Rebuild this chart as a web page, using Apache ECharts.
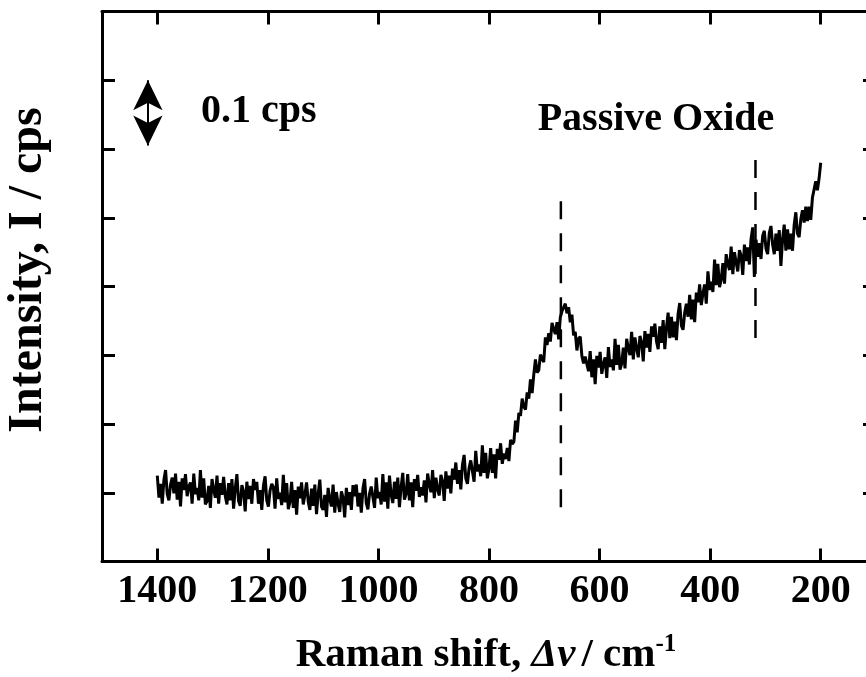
<!DOCTYPE html>
<html>
<head>
<meta charset="utf-8">
<script src="https://cdn.jsdelivr.net/npm/echarts@6/dist/echarts.min.js"></script>
<style>
html,body{margin:0;padding:0;background:#fff;}
#chart{width:866px;height:677px;}
</style>
</head>
<body>
<div id="chart"></div>
<script>
// Raman shift (cm-1)
const shiftsCm = [
1400,1397,1394,1391,1388,1385,1382,1379,1376,1373,
1370,1367,1364,1361,1358,1355,1352,1349,1346,1343,
1340,1337,1334,1331,1328,1325,1322,1319,1316,1313,
1310,1307,1304,1301,1298,1295,1292,1289,1286,1283,
1280,1277,1274,1271,1268,1265,1262,1259,1256,1253,
1250,1247,1244,1241,1238,1235,1232,1229,1226,1223,
1220,1217,1214,1211,1208,1205,1202,1199,1196,1193,
1190,1187,1184,1181,1178,1175,1172,1169,1166,1163,
1160,1157,1154,1151,1148,1145,1142,1139,1136,1133,
1130,1127,1124,1121,1118,1115,1112,1109,1106,1103,
1100,1097,1094,1091,1088,1085,1082,1079,1076,1073,
1070,1067,1064,1061,1058,1055,1052,1049,1046,1043,
1040,1037,1034,1031,1028,1025,1022,1019,1016,1013,
1010,1007,1004,1001,998,995,992,989,986,983,
980,977,974,971,968,965,962,959,956,953,
950,947,944,941,938,935,932,929,926,923,
920,917,914,911,908,905,902,899,896,893,
890,887,884,881,878,875,872,869,866,863,
860,857,854,851,848,845,842,839,836,833,
830,827,824,821,818,815,812,809,806,803,
800,797,794,791,788,785,782,779,776,773,
770,767,764,761,758,755,752,749,746,743,
740,737,734,731,728,725,722,719,716,713,
710,707,704,701,698,695,692,689,686,683,
680,677,674,671,668,665,662,659,656,653,
650,647,644,641,638,635,632,629,626,623,
620,617,614,611,608,605,602,599,596,593,
590,587,584,581,578,575,572,569,566,563,
560,557,554,551,548,545,542,539,536,533,
530,527,524,521,518,515,512,509,506,503,
500,497,494,491,488,485,482,479,476,473,
470,467,464,461,458,455,452,449,446,443,
440,437,434,431,428,425,422,419,416,413,
410,407,404,401,398,395,392,389,386,383,
380,377,374,371,368,365,362,359,356,353,
350,347,344,341,338,335,332,329,326,323,
320,317,314,311,308,305,302,299,296,293,
290,287,284,281,278,275,272,269,266,263,
260,257,254,251,248,245,242,239,236,233,
230,227,224,221,218,215,212,209,206,203,
200
];
// Intensity (cps)
const intensityCps = [
0.125,0.093,0.113,0.084,0.119,0.133,0.098,0.089,0.112,0.122,
0.099,0.128,0.090,0.116,0.080,0.121,0.104,0.127,0.095,0.109,
0.115,0.084,0.128,0.098,0.107,0.089,0.133,0.093,0.121,0.083,
0.088,0.110,0.078,0.120,0.104,0.093,0.125,0.084,0.114,0.097,
0.123,0.095,0.083,0.114,0.089,0.120,0.077,0.106,0.127,0.088,
0.081,0.111,0.102,0.073,0.116,0.091,0.110,0.084,0.120,0.104,
0.116,0.084,0.104,0.075,0.110,0.124,0.089,0.080,0.103,0.113,
0.108,0.077,0.121,0.091,0.100,0.082,0.126,0.086,0.114,0.076,
0.087,0.116,0.078,0.104,0.068,0.109,0.092,0.115,0.083,0.097,
0.115,0.087,0.075,0.106,0.081,0.112,0.069,0.098,0.119,0.080,
0.075,0.097,0.065,0.107,0.091,0.080,0.112,0.071,0.101,0.084,
0.072,0.102,0.093,0.064,0.107,0.082,0.101,0.075,0.111,0.095,
0.112,0.080,0.100,0.071,0.106,0.120,0.085,0.076,0.099,0.109,
0.109,0.078,0.122,0.092,0.101,0.083,0.127,0.087,0.115,0.077,
0.125,0.097,0.085,0.116,0.091,0.122,0.079,0.108,0.129,0.090,
0.098,0.127,0.089,0.115,0.079,0.120,0.103,0.126,0.094,0.108,
0.096,0.118,0.086,0.128,0.112,0.101,0.133,0.092,0.122,0.105,
0.096,0.126,0.117,0.088,0.131,0.106,0.125,0.099,0.135,0.119,
0.144,0.113,0.133,0.105,0.141,0.155,0.121,0.113,0.136,0.147,
0.146,0.116,0.161,0.131,0.141,0.124,0.169,0.129,0.158,0.121,
0.135,0.165,0.129,0.156,0.121,0.164,0.148,0.172,0.142,0.157,
0.149,0.165,0.146,0.177,0.171,0.174,0.205,0.188,0.216,0.212,
0.237,0.225,0.221,0.246,0.237,0.265,0.245,0.272,0.294,0.275,
0.278,0.301,0.302,0.290,0.326,0.315,0.332,0.320,0.347,0.338,
0.331,0.348,0.323,0.355,0.364,0.365,0.375,0.361,0.370,0.348,
0.359,0.329,0.334,0.307,0.324,0.327,0.299,0.288,0.298,0.300,
0.277,0.306,0.268,0.294,0.258,0.299,0.282,0.305,0.273,0.287,
0.297,0.267,0.312,0.283,0.294,0.278,0.324,0.286,0.315,0.279,
0.288,0.311,0.281,0.324,0.310,0.300,0.334,0.294,0.326,0.310,
0.297,0.328,0.319,0.291,0.335,0.311,0.331,0.305,0.342,0.327,
0.346,0.320,0.309,0.342,0.318,0.351,0.309,0.340,0.362,0.325,
0.356,0.326,0.349,0.322,0.360,0.376,0.343,0.337,0.362,0.375,
0.356,0.388,0.352,0.381,0.348,0.391,0.377,0.403,0.373,0.390,
0.403,0.375,0.422,0.395,0.407,0.392,0.439,0.402,0.433,0.399,
0.410,0.434,0.404,0.447,0.433,0.424,0.458,0.418,0.450,0.435,
0.422,0.453,0.445,0.417,0.461,0.437,0.457,0.432,0.469,0.486,
0.414,0.468,0.443,0.463,0.440,0.474,0.481,0.455,0.447,0.478,
0.488,0.461,0.447,0.477,0.452,0.482,0.430,0.469,0.490,0.452,
0.483,0.454,0.477,0.452,0.490,0.508,0.477,0.472,0.498,0.511,
0.493,0.516,0.495,0.516,0.497,0.529,0.528,0.553,0.540,0.557,
0.580
];
// x-axis tick labels
const xTicks = [1400,1200,1000,800,600,400,200];
// dashed marker lines (Passive Oxide bands)
const bandShifts = [670, 318];
const bandTop = [0.524, 0.584];
const bandBottom = [0.0705, 0.325];
// scale arrow (0.1 cps)
const arrowShift = 1417;
const arrowFrom = 0.605;
const arrowTo = 0.700;

const FONT = '"Liberation Serif","Times New Roman",serif';
const chart = echarts.init(document.getElementById('chart'), null, {renderer:'canvas'});

const spectrum = shiftsCm.map((s,i)=>[s, intensityCps[i]]);
const bandSeries = bandShifts.map((s,i)=>({
  type:'line', xAxisIndex:0, yAxisIndex:0, showSymbol:false, silent:true,
  data:[[s,bandTop[i]],[s,bandBottom[i]]],
  lineStyle:{color:'#000', width:2.5, type:[18,14]}, z:3
}));

const axisCommon = {
  axisLine:{show:true, onZero:false, lineStyle:{color:'#000', width:3}},
  splitLine:{show:false}
};
const tickStyle = {show:true, inside:true, length:13, lineStyle:{color:'#000', width:3}};

chart.setOption({
  animation:false,
  backgroundColor:'#fff',
  grid:{left:102, width:774, top:11.5, height:550, containLabel:false, outerBoundsMode:'none'},
  xAxis:[
    Object.assign({}, axisCommon, {
      type:'value', position:'bottom', min:100, max:1500, inverse:true,
      axisTick:Object.assign({customValues:xTicks}, tickStyle),
      axisLabel:{show:true, margin:10, color:'#000', fontFamily:FONT, fontWeight:'bold', fontSize:40,
        customValues:xTicks, formatter:function(v){return String(v);}}
    }),
    Object.assign({}, axisCommon, {
      type:'value', position:'top', min:100, max:1500, inverse:true,
      axisTick:Object.assign({customValues:xTicks}, tickStyle),
      axisLabel:{show:false}
    })
  ],
  yAxis:[
    Object.assign({}, axisCommon, {
      type:'value', position:'left', min:0, max:0.8, interval:0.1,
      axisTick:tickStyle, axisLabel:{show:false}
    }),
    Object.assign({}, axisCommon, {
      type:'value', position:'right', min:0, max:0.8, interval:0.1,
      axisTick:tickStyle, axisLabel:{show:false}
    })
  ],
  series:[
    {
      type:'line', xAxisIndex:0, yAxisIndex:0, data:spectrum, showSymbol:false, silent:true,
      lineStyle:{color:'#000', width:3}, z:4,
      markLine:{
        silent:true, symbol:['arrow','arrow'], symbolSize:[22,30],
        label:{show:false},
        lineStyle:{color:'#000', width:2, type:'solid'},
        data:[[{coord:[arrowShift, arrowFrom]},{coord:[arrowShift, arrowTo]}]]
      }
    }
  ].concat(bandSeries),
  graphic:[
    {type:'text', x:201, y:112, style:{text:'0.1 cps', font:'bold 40px '+FONT, fill:'#000', textAlign:'left', textVerticalAlign:'middle', align:'left', verticalAlign:'middle'}},
    {type:'text', x:656, y:120, style:{text:'Passive Oxide', font:'bold 40px '+FONT, fill:'#000', textAlign:'center', textVerticalAlign:'middle', align:'center', verticalAlign:'middle'}},
    {type:'text', x:29, y:270, rotation:Math.PI/2, style:{text:'Intensity, I / cps', font:'bold 48px '+FONT, fill:'#000', textAlign:'center', textVerticalAlign:'middle', align:'center', verticalAlign:'middle'}},
    {type:'text', x:486, y:655, style:{
      text:'{n|Raman shift, }{i|Δν}{n|/ cm}{s|-1}',
      textAlign:'center', textVerticalAlign:'middle', align:'center', verticalAlign:'middle',
      rich:{
        n:{fontFamily:FONT, fontWeight:'bold', fontSize:41, fill:'#000', color:'#000', lineHeight:46},
        i:{fontFamily:FONT, fontWeight:'bold', fontStyle:'italic', fontSize:41, fill:'#000', color:'#000', lineHeight:46, padding:[0,6,0,0]},
        s:{fontFamily:FONT, fontWeight:'bold', fontSize:25, fill:'#000', color:'#000', lineHeight:46, verticalAlign:'top'}
      }
    }}
  ]
});
</script>
</body>
</html>
